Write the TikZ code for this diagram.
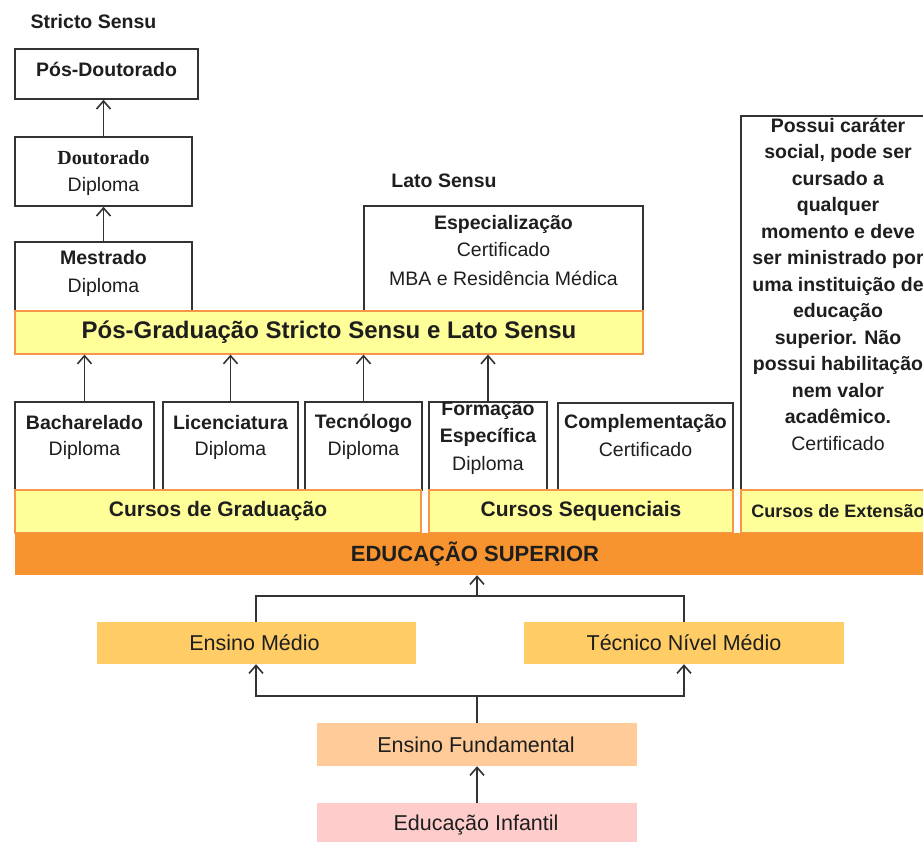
\documentclass[tikz,border=0pt]{standalone}
\usepackage{fontspec}
\setmainfont{Liberation Sans}
\newfontfamily\serifb{Liberation Serif}
\usetikzlibrary{arrows.meta}
\definecolor{bord}{HTML}{333333}
\definecolor{txtc}{HTML}{1E1E1E}
\definecolor{ylw}{HTML}{FFFF99}
\definecolor{oline}{HTML}{F79646}
\definecolor{orng}{HTML}{F7942F}
\definecolor{medio}{HTML}{FFCC66}
\definecolor{fund}{HTML}{FFCC99}
\definecolor{infa}{HTML}{FFCCCC}
\begin{document}
\begin{tikzpicture}[x=1pt,y=-1pt,
  box/.style={draw=bord,line width=1.6pt,inner sep=0pt,fill=white},
  ybar/.style={draw=oline,line width=1.2pt,fill=ylw,inner sep=0pt},
  obar/.style={fill=orng,inner sep=0pt},
  lbox/.style={inner sep=0pt},
  txt/.style={inner sep=0pt,text=txtc,font=\fontsize{19.5}{23}\selectfont},
  btxt/.style={inner sep=0pt,text=txtc,font=\bfseries\fontsize{19.5}{23}\selectfont},
  bartxt/.style={inner sep=0pt,text=txtc,font=\bfseries\fontsize{21}{25}\selectfont},
  lowtxt/.style={inner sep=0pt,text=txtc,font=\fontsize{21.5}{25}\selectfont},
  arr/.style={draw=bord,line width=1.6pt,-{Straight Barb[length=8pt,width=14pt]}},
  ln/.style={draw=bord,line width=1.6pt}]
\useasboundingbox (0,0) rectangle (923,841);
\clip (0,0) rectangle (923,841);
% Stricto Sensu column
\node[btxt] (tstricto) at (93.5,22) {Stricto Sensu};
\node[box,minimum width=183pt,minimum height=50pt] (pd) at (106.5,74) {};
\node[btxt] (tpd) at (106.5,69) {Pós-Doutorado};
\node[box,minimum width=177pt,minimum height=69pt] (dout) at (103.5,171.5) {};
\node[inner sep=0pt,text=txtc,font=\serifb\bfseries\fontsize{20}{24}\selectfont] (tdout) at (103.5,158) {Doutorado};
\node[txt] (tdoutd) at (103.5,186) {Diploma};
\node[box,minimum width=177pt,minimum height=69pt] (mest) at (103.5,276.5) {};
\node[btxt] (tmest) at (103.5,258) {Mestrado};
\node[txt] (tmestd) at (103.5,287) {Diploma};
% Lato Sensu
\node[btxt] (tlato) at (444,181) {Lato Sensu};
\node[box,minimum width=279pt,minimum height=105pt] (esp) at (503.5,258.5) {};
\node[btxt] (tesp) at (503.5,224) {Especialização};
\node[txt] (tespc) at (503.5,250) {Certificado};
\node[txt] (tespm) at (503.5,278) {MBA e Residência Médica};
% Pos-graduacao bar
\node[ybar,minimum width=628pt,minimum height=43pt] (pg) at (329,332.5) {};
\node[inner sep=0pt,text=txtc,font=\bfseries\fontsize{24}{28}\selectfont] (tpg) at (329,332.5) {Pós-Graduação Stricto Sensu e Lato Sensu};
% Graduacao boxes
\node[box,minimum width=139pt,minimum height=88pt] (bach) at (84.5,446) {};
\node[btxt] (tbach) at (84.5,423) {Bacharelado};
\node[txt] (tbachd) at (84.5,450) {Diploma};
\node[box,minimum width=135pt,minimum height=88pt] (lic) at (230.5,446) {};
\node[btxt] (tlic) at (230.5,423) {Licenciatura};
\node[txt] (tlicd) at (230.5,450) {Diploma};
\node[box,minimum width=117pt,minimum height=88pt] (tec) at (363.5,446) {};
\node[btxt] (ttec) at (363.5,423) {Tecnólogo};
\node[txt] (ttecd) at (363.5,450) {Diploma};
\node[box,minimum width=118pt,minimum height=88pt] (form) at (488,446) {};
\node[btxt] (tform) at (488,410) {Formação};
\node[btxt] (tforme) at (488,437) {Específica};
\node[txt] (tformd) at (488,465) {Diploma};
\node[box,minimum width=175pt,minimum height=87pt] (comp) at (645.5,446.5) {};
\node[btxt] (tcomp) at (645.5,423) {Complementação};
\node[txt] (tcompc) at (645.5,450) {Certificado};
% Extensao
\node[box,minimum width=194pt,minimum height=374pt] (ext) at (838,303) {};
\node[inner sep=0pt,text=txtc,align=center,font=\fontsize{19.5}{26.5}\selectfont] (text) at (838,284)
  {\textbf{Possui caráter}\\ \textbf{social, pode ser}\\ \textbf{cursado a}\\ \textbf{qualquer}\\ \textbf{momento e deve}\\ \textbf{ser ministrado por}\\ \textbf{uma instituição de}\\ \textbf{educação}\\ \textbf{superior. Não}\\ \textbf{possui habilitação}\\ \textbf{nem valor}\\ \textbf{acadêmico.}\\ Certificado};
% bars
\node[ybar,minimum width=406pt,minimum height=43pt] (grad) at (218,511.5) {};
\node[bartxt] (tgrad) at (218,511.5) {Cursos de Graduação};
\node[ybar,minimum width=304pt,minimum height=43pt] (seq) at (581,511.5) {};
\node[bartxt] (tseq) at (581,511.5) {Cursos Sequenciais};
\node[ybar,minimum width=194pt,minimum height=43pt] (extb) at (838,511.5) {};
\node[inner sep=0pt,text=txtc,font=\bfseries\fontsize{18}{22}\selectfont] (textb) at (838,511.5) {Cursos de Extensão};
\node[obar,minimum width=920pt,minimum height=42pt] (sup) at (475,554) {};
\node[inner sep=0pt,text=txtc,font=\bfseries\fontsize{22}{26}\selectfont] (tsup) at (475,554) {EDUCAÇÃO SUPERIOR};
% lower levels
\node[lbox,fill=medio,minimum width=319pt,minimum height=42pt] (em) at (256,643) {};
\node[lowtxt] (tem) at (254.5,643) {Ensino Médio};
\node[lbox,fill=medio,minimum width=320pt,minimum height=42pt] (tm) at (684,643) {};
\node[lowtxt] (ttm) at (684,643) {Técnico Nível Médio};
\node[lbox,fill=fund,minimum width=320pt,minimum height=43pt] (ef) at (477,744.5) {};
\node[lowtxt] (tef) at (476,744.5) {Ensino Fundamental};
\node[lbox,fill=infa,minimum width=320pt,minimum height=43pt] (ei) at (477,824.5) {};
\node[lowtxt] (tei) at (476,824.5) {Educação Infantil};
% connectors
\draw[arr] (dout.north) -- (dout.north |- pd.south);
\draw[arr] (mest.north) -- (mest.north |- dout.south);
\draw[arr] (bach.north) -- (bach.north |- pg.south);
\draw[arr] (lic.north) -- (lic.north |- pg.south);
\draw[arr] (tec.north) -- (tec.north |- pg.south);
\draw[arr] (form.north) -- (form.north |- pg.south);
\coordinate (jtop) at (477,596);
\coordinate (jbot) at (477,696);
\draw[ln] (em.north) |- (jtop) -| (tm.north);
\draw[arr] (jtop) -- (jtop |- sup.south);
\draw[ln] (ef.north) -- (jbot);
\draw[arr] (jbot) -| (em.south);
\draw[arr] (jbot) -| (tm.south);
\draw[arr] (ei.north) -- (ef.south);
\end{tikzpicture}
\end{document}
